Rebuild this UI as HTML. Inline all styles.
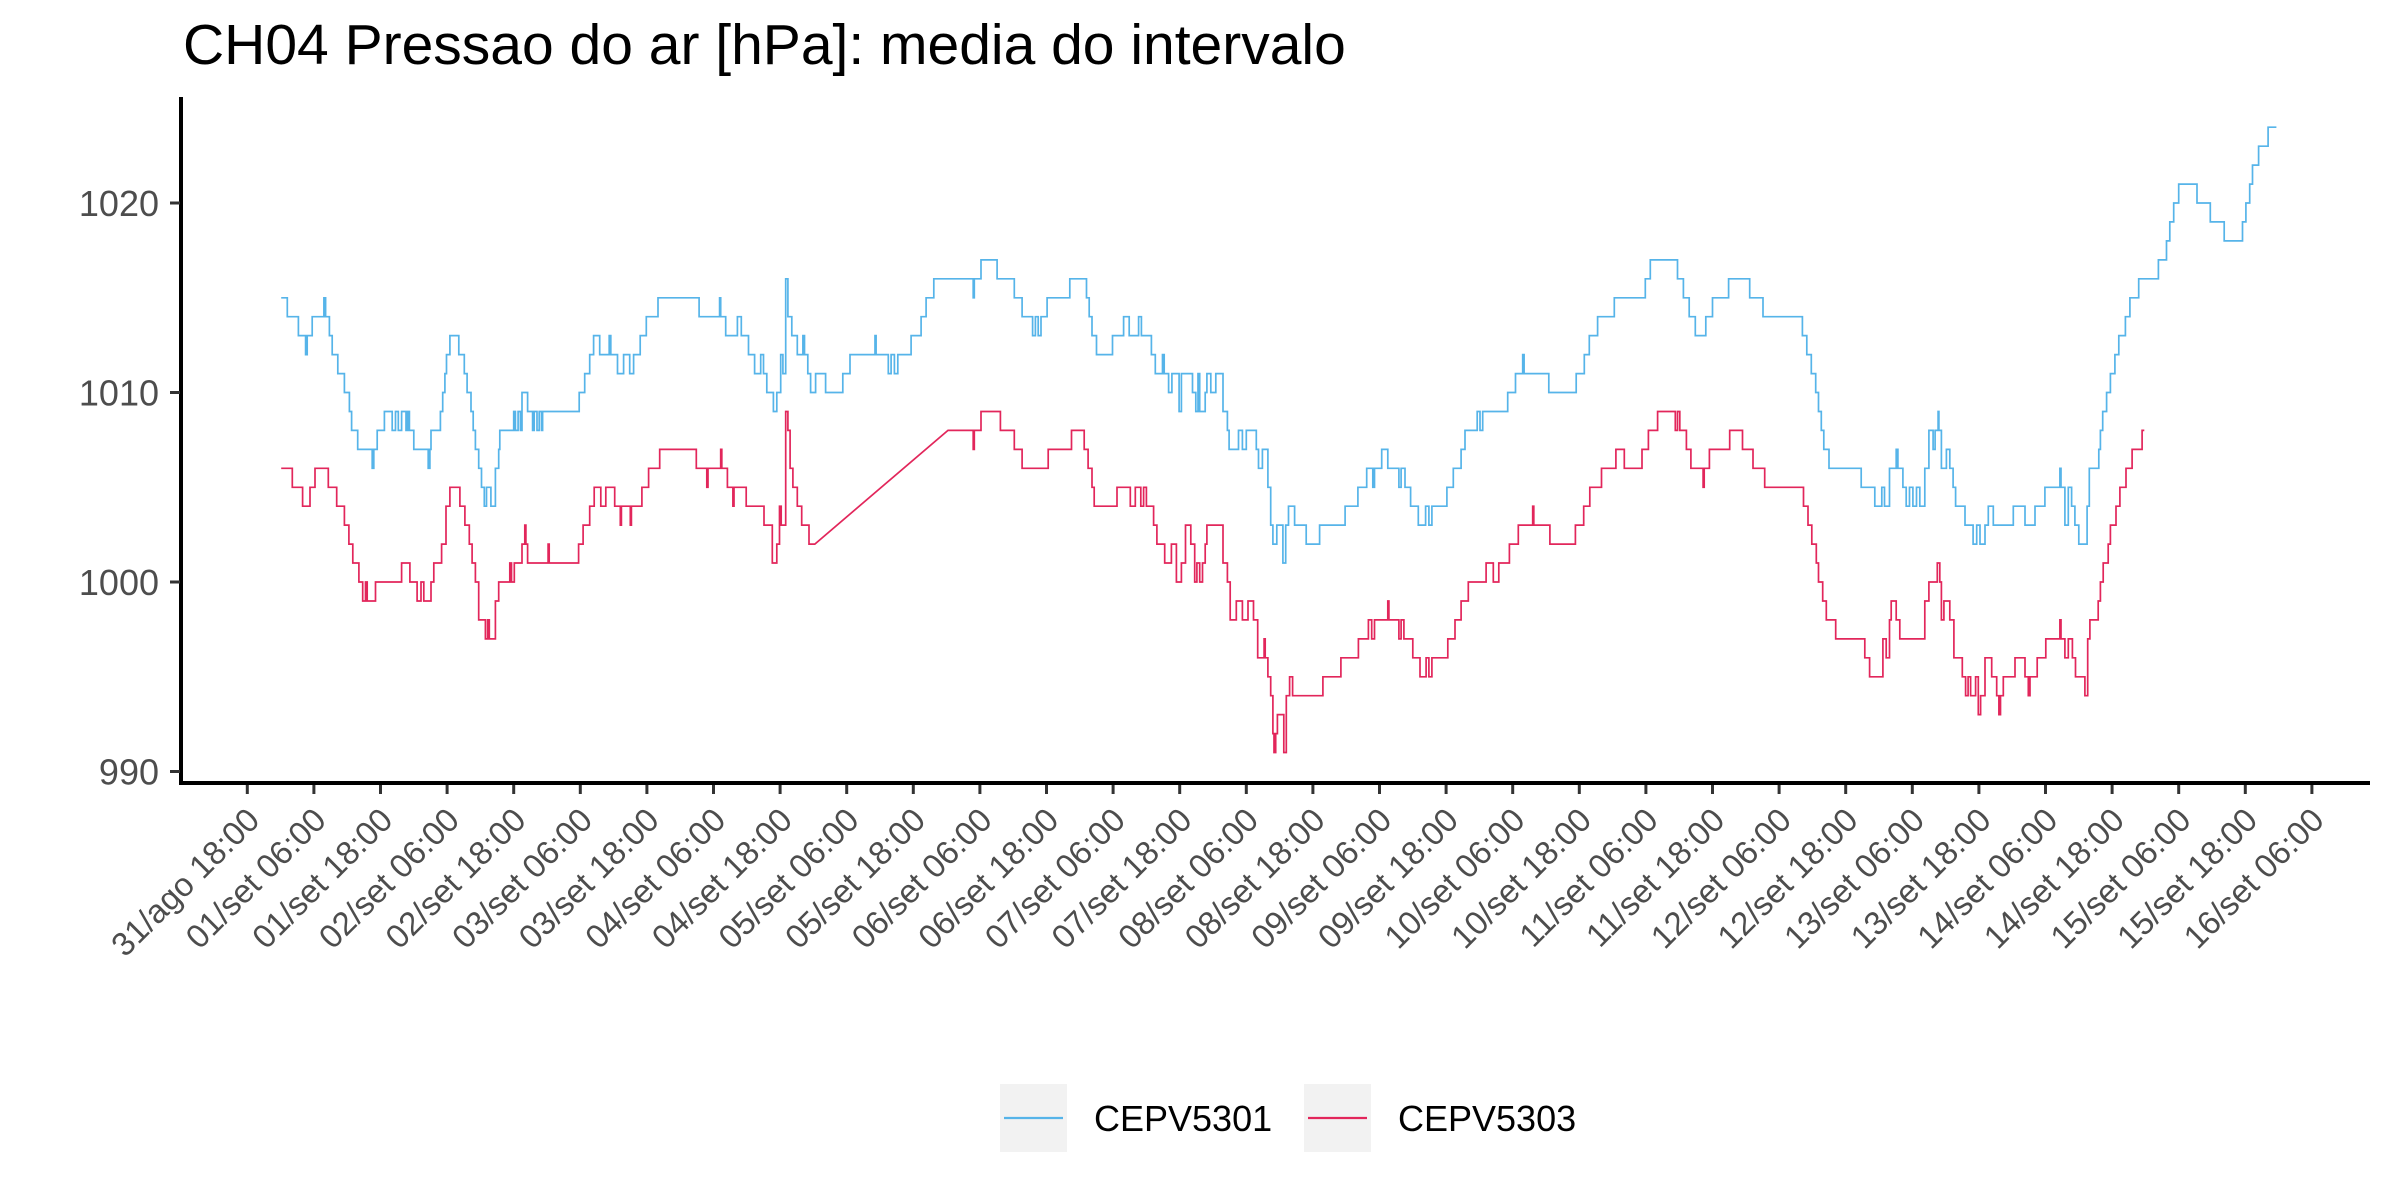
<!DOCTYPE html>
<html><head><meta charset="utf-8"><style>
html,body{margin:0;padding:0;background:#fff;}
svg{display:block;font-family:"Liberation Sans",Arial,sans-serif;}
</style></head><body>
<svg id="chart" width="2400" height="1200" viewBox="0 0 2400 1200" xmlns="http://www.w3.org/2000/svg">
<rect x="0" y="0" width="2400" height="1200" fill="#fff"/>
<text x="183" y="64" font-size="57" fill="#000">CH04 Pressao do ar [hPa]: media do intervalo</text>
<g id="plot"></g>
<g id="legend">
  <g>
    <rect x="1000" y="1084" width="67" height="68" fill="#f2f2f2"/>
    <line x1="1004" y1="1118" x2="1063" y2="1118" stroke="#56B4E9" stroke-width="2.2"/>
    <text x="1094" y="1131" font-size="36" fill="#000">CEPV5301</text>
  </g>
  <g>
    <rect x="1304" y="1084" width="67" height="68" fill="#f2f2f2"/>
    <line x1="1308" y1="1118" x2="1367" y2="1118" stroke="#E2265B" stroke-width="2.2"/>
    <text x="1398" y="1131" font-size="36" fill="#000">CEPV5303</text>
  </g>
</g>
</svg>
<script>
// hours since 31/ago 18:00
const yTicks = [990, 1000, 1010, 1020];
const xTickLabels = ["31/ago 18:00","01/set 06:00","01/set 18:00","02/set 06:00","02/set 18:00","03/set 06:00","03/set 18:00","04/set 06:00","04/set 18:00","05/set 06:00","05/set 18:00","06/set 06:00","06/set 18:00","07/set 06:00","07/set 18:00","08/set 06:00","08/set 18:00","09/set 06:00","09/set 18:00","10/set 06:00","10/set 18:00","11/set 06:00","11/set 18:00","12/set 06:00","12/set 18:00","13/set 06:00","13/set 18:00","14/set 06:00","14/set 18:00","15/set 06:00","15/set 18:00","16/set 06:00"];
const blueTimes = [6.1,7.2,9.2,10.5,10.8,11.7,13.8,14.1,14.8,15.3,16.3,17.5,18.4,18.8,19.9,22.5,22.8,23.4,24.7,26.1,26.7,27.2,27.8,28.6,28.9,29.2,30.0,32.6,32.9,33.1,34.8,35.2,35.6,35.9,36.5,38.1,39.1,39.6,40.3,40.7,41.1,41.7,42.2,42.7,43.1,43.9,44.7,45.3,45.5,48.0,48.3,48.8,49.2,49.5,50.5,51.4,51.7,52.2,52.6,53.0,53.2,59.8,60.8,61.7,62.4,63.5,65.2,65.5,66.7,67.8,68.9,69.6,70.8,71.9,74.0,81.4,85.1,85.3,86.2,88.3,89.0,90.3,91.4,92.5,93.0,93.6,94.8,95.4,96.1,96.5,97.0,97.4,98.1,99.1,100.1,100.4,101.0,101.5,102.4,104.2,107.3,108.6,113.1,113.3,115.5,116.0,116.6,117.2,119.6,121.4,122.3,123.7,130.8,131.0,132.2,135.1,138.2,139.6,141.5,142.0,142.5,143.0,144.1,148.2,151.2,151.7,152.2,153.0,155.9,157.9,158.9,160.6,161.1,162.9,163.6,164.9,165.2,166.0,166.6,167.9,168.3,170.3,170.9,171.3,171.6,172.6,172.9,173.6,174.5,175.8,176.6,176.9,178.6,179.3,180.0,181.8,182.2,182.9,183.9,184.4,184.8,185.5,186.6,187.1,187.6,188.7,190.8,193.2,197.8,200.1,201.7,202.8,203.1,204.4,205.5,207.5,207.9,208.6,209.6,211.0,212.3,212.9,213.45,216.15,217.3,218.7,219.4,221.6,222.1,222.6,227.1,228.5,229.8,230.05,234.5,239.45,240.9,241.8,243.3,246.3,251.9,252.8,257.7,258.75,259.8,260.9,262.8,264.0,266.9,270.7,273.1,280.2,281.0,281.8,282.6,283.1,283.6,284.05,285.0,290.8,293.25,294.5,295.0,295.9,297.1,297.4,298.3,298.9,299.5,300.1,300.75,301.35,302.25,303.0,303.75,304.1,304.65,304.8,305.25,306.15,306.75,307.35,307.8,309.5,310.95,311.6,312.2,313.1,313.7,314.6,318.2,320.3,322.1,323.9,326.6,326.8,327.5,328.1,328.7,329.3,330.0,331.5,331.9,333.6,333.9,334.3,335.0,335.7,336.5,337.2,338.4,339.2,340.8,344.35,345.8,346.4,347.1,348.0,351.3,353.7,356.2,359.5,360.1,360.8,361.3,362.4,364.1,365.6];
const blueValues = [1015,1014,1013,1012,1013,1014,1015,1014,1013,1012,1011,1010,1009,1008,1007,1006,1007,1008,1009,1008,1009,1008,1009,1008,1009,1008,1007,1006,1007,1008,1009,1010,1011,1012,1013,1012,1011,1010,1009,1008,1007,1006,1005,1004,1005,1004,1006,1007,1008,1009,1008,1009,1008,1010,1009,1008,1009,1008,1009,1008,1009,1010,1011,1012,1013,1012,1013,1012,1011,1012,1011,1012,1013,1014,1015,1014,1015,1014,1013,1014,1013,1012,1011,1012,1011,1010,1009,1010,1012,1011,1016,1014,1013,1012,1013,1012,1011,1010,1011,1010,1011,1012,1013,1012,1011,1012,1011,1012,1013,1014,1015,1016,1015,1016,1017,1016,1015,1014,1013,1014,1013,1014,1015,1016,1015,1014,1013,1012,1013,1014,1013,1014,1013,1012,1011,1012,1011,1010,1011,1009,1011,1010,1009,1011,1009,1010,1011,1010,1011,1009,1008,1007,1008,1007,1008,1007,1006,1007,1005,1003,1002,1003,1001,1003,1004,1003,1002,1003,1004,1005,1006,1005,1006,1007,1006,1005,1006,1005,1004,1003,1004,1003,1004,1005,1006,1007,1008,1009,1008,1009,1010,1011,1012,1011,1010,1011,1012,1013,1014,1015,1016,1017,1016,1015,1014,1013,1014,1015,1016,1015,1014,1013,1012,1011,1010,1009,1008,1007,1006,1005,1004,1005,1004,1006,1007,1006,1005,1004,1005,1004,1005,1004,1006,1008,1007,1008,1009,1008,1006,1007,1006,1005,1004,1003,1002,1003,1002,1003,1004,1003,1004,1003,1004,1005,1006,1005,1003,1005,1004,1003,1002,1004,1006,1007,1008,1009,1010,1011,1012,1013,1014,1015,1016,1017,1018,1019,1020,1021,1020,1019,1018,1019,1020,1021,1022,1023,1024,1024];
const redTimes = [6.1,8.1,9.97,11.3,12.2,14.6,16.1,17.5,18.3,19.0,20.1,20.8,21.3,21.6,23.1,27.8,29.3,30.6,31.3,31.8,33.1,33.6,35.0,35.8,36.5,38.3,39.2,40.0,40.5,41.1,41.7,42.9,43.3,43.6,44.7,45.3,47.3,47.6,48.1,49.5,50.0,50.2,50.5,54.2,54.4,59.7,60.5,61.7,62.5,63.7,64.6,66.2,67.2,67.4,69.0,69.2,71.1,72.3,74.3,80.9,82.8,83.0,85.3,85.5,86.5,87.5,87.7,89.9,93.1,94.6,95.4,95.9,96.2,97.0,97.4,97.8,98.3,99.1,99.9,101.2,102.25,126.25,130.8,131.0,132.2,135.7,138.2,139.6,144.3,148.5,150.8,151.5,152.2,152.6,156.7,159.1,160.0,161.0,161.5,162.0,163.3,163.9,165.3,166.5,167.4,168.3,169.05,170.0,170.7,171.1,171.6,172.1,172.6,172.9,175.8,176.6,177.1,178.2,179.3,180.3,181.3,182.05,183.2,183.4,183.9,184.4,184.8,185.0,185.3,185.6,186.75,187.2,187.8,188.35,193.8,197.05,200.2,202.0,202.6,203.1,205.5,205.7,207.5,207.9,208.4,210.0,211.3,212.4,212.9,213.45,216.3,217.6,218.7,220.0,223.2,224.5,225.5,227.4,229.0,231.6,231.8,234.7,239.3,240.8,241.9,244.0,246.6,248.1,251.3,252.45,254.1,257.3,257.7,258.1,259.3,260.1,262.3,262.5,263.45,267.1,269.4,271.3,273.4,280.4,281.2,281.9,282.7,283.1,283.85,284.5,286.2,291.45,292.3,294.7,295.3,295.9,296.2,297.1,297.75,302.25,303.0,304.5,304.95,305.25,305.7,306.75,307.5,309.0,309.6,310.05,310.5,311.4,311.9,312.3,313.1,314.3,315.2,315.6,315.9,316.4,318.5,320.3,320.9,321.2,322.5,324.05,326.6,326.8,327.5,328.1,328.85,329.4,331.1,331.6,332.0,333.5,333.9,334.4,335.3,335.7,336.7,337.4,338.5,339.6,341.4,341.8];
const redValues = [1006,1005,1004,1005,1006,1005,1004,1003,1002,1001,1000,999,1000,999,1000,1001,1000,999,1000,999,1000,1001,1002,1004,1005,1004,1003,1002,1001,1000,998,997,998,997,999,1000,1001,1000,1001,1002,1003,1002,1001,1002,1001,1002,1003,1004,1005,1004,1005,1004,1003,1004,1003,1004,1005,1006,1007,1006,1005,1006,1007,1006,1005,1004,1005,1004,1003,1001,1002,1004,1003,1009,1008,1006,1005,1004,1003,1002,1002,1008,1007,1008,1009,1008,1007,1006,1007,1008,1007,1006,1005,1004,1005,1004,1005,1004,1005,1004,1003,1002,1001,1002,1000,1001,1003,1002,1000,1001,1000,1001,1002,1003,1001,1000,998,999,998,999,998,996,997,996,995,994,992,991,992,993,991,994,995,994,995,996,997,998,997,998,999,998,997,998,997,996,995,996,995,996,997,998,999,1000,1001,1000,1001,1002,1003,1004,1003,1002,1003,1004,1005,1006,1007,1006,1007,1008,1009,1008,1009,1008,1007,1006,1005,1006,1007,1008,1007,1006,1005,1004,1003,1002,1001,1000,999,998,997,996,995,997,996,998,999,998,997,999,1000,1001,1000,998,999,998,996,995,994,995,994,995,993,994,996,995,994,993,994,995,996,995,994,995,996,997,998,997,996,997,996,995,994,997,998,999,1000,1001,1002,1003,1004,1005,1006,1007,1008,1008];

const NS = "http://www.w3.org/2000/svg";
const plot = document.getElementById('plot');
const X0 = 247.3, PX_PER_HOUR = 66.6 / 12;
function xScale(h) { return X0 + h * PX_PER_HOUR; }
function yScale(v) { return 582 - (v - 1000) * 18.95; }
function mk(tag, attrs) { const e = document.createElementNS(NS, tag); for (const k in attrs) e.setAttribute(k, attrs[k]); return e; }

// axes
const yAxis = mk('line', {x1: 181, y1: 97, x2: 181, y2: 785, stroke: '#000', 'stroke-width': 4});


plot.appendChild(yAxis);
const xAxis = mk('line', {x1: 179, y1: 783, x2: 2370, y2: 783, stroke: '#000', 'stroke-width': 4});


plot.appendChild(xAxis);

yTicks.forEach(v => {
  const y = yScale(v);
  const t = mk('line', {x1: 170, y1: y, x2: 180, y2: y, stroke: '#333', 'stroke-width': 3});
  
  
  plot.appendChild(t);
  const l = mk('text', {x: 159, y: y + 13, 'text-anchor': 'end', 'font-size': 36, fill: '#4d4d4d'});
  l.textContent = String(v);
  
  
  plot.appendChild(l);
});

xTickLabels.forEach((lab, i) => {
  const x = xScale(i * 12);
  const t = mk('line', {x1: x, y1: 785, x2: x, y2: 794, stroke: '#333', 'stroke-width': 3});
  
  
  plot.appendChild(t);
  const ax = x + 14, ay = 822;
  const l = mk('text', {x: ax, y: ay, 'text-anchor': 'end', 'font-size': 33, fill: '#4d4d4d', transform: 'rotate(-45 ' + ax + ' ' + ay + ')'});
  l.textContent = lab;
  
  
  plot.appendChild(l);
});

function buildPath(times, values) {
  let d = '';
  for (let i = 0; i < times.length; i++) {
    const x = xScale(times[i]).toFixed(1), y = yScale(values[i]).toFixed(1);
    if (i === 0) d += 'M' + x + ' ' + y;
    else if (times[i] - times[i - 1] > 12) d += 'L' + x + ' ' + y;
    else d += 'H' + x + 'V' + y;
  }
  return d;
}
const pb = mk('path', {d: buildPath(blueTimes, blueValues), fill: 'none', stroke: '#56B4E9', 'stroke-width': 1.7, 'stroke-linejoin': 'miter'});


plot.appendChild(pb);
const pr = mk('path', {d: buildPath(redTimes, redValues), fill: 'none', stroke: '#E2265B', 'stroke-width': 1.7, 'stroke-linejoin': 'miter'});


plot.appendChild(pr);
</script>
</body></html>
